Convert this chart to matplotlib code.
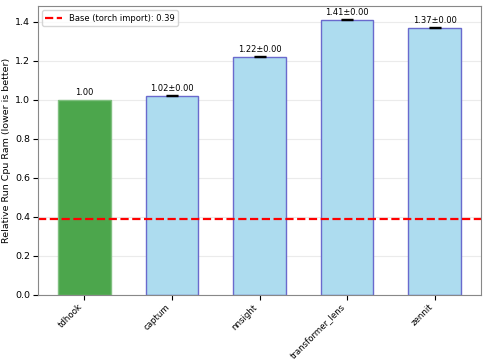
import matplotlib.pyplot as plt
import numpy as np

libs = ['tdhook', 'captum', 'nnsight', 'transformer_lens', 'zennit']
rel_ram = [1.00, 1.02, 1.22, 1.41, 1.37]
rel_err = [0.0, 0.002, 0.002, 0.002, 0.002]
base = 0.39

fig, ax = plt.subplots(figsize=(4.86, 3.63), dpi=100)

x = np.arange(len(libs))
colors = ['#4ca64c'] + ['#addcef'] * (len(libs) - 1)
edges = ['#7fbf7f'] + ['#6a6acd'] * (len(libs) - 1)
ax.bar(x, rel_ram, width=0.6, color=colors, edgecolor=edges, linewidth=1)
# error bars only on the comparison libs
ax.errorbar(x[1:], rel_ram[1:], yerr=rel_err[1:], fmt='none', ecolor='black',
            elinewidth=1, capsize=4)
ax.axhline(base, color='red', linestyle='--', linewidth=1.6, label=f'Base (torch import): {base:.2f}')

for i, (v, e) in enumerate(zip(rel_ram, rel_err)):
    txt = f'{v:.2f}' if i == 0 else f'{v:.2f}±{0:.2f}'
    ax.text(x[i], v + 0.015, txt, ha='center', va='bottom', fontsize=6)

ax.set_xticks(x)
ax.set_xticklabels(libs, rotation=45, ha='right', fontsize=6.2)
ax.tick_params(axis='y', labelsize=6.8, pad=2)
ax.tick_params(axis='x', pad=2)
ax.set_ylabel('Relative Run Cpu Ram (lower is better)', fontsize=6.8, labelpad=3)
ax.set_ylim(0, 1.48)
ax.grid(axis='y', alpha=0.25)
ax.set_axisbelow(True)
ax.legend(loc='upper left', fontsize=6)
for s in ax.spines.values():
    s.set_color('#888888')

fig.subplots_adjust(left=0.078, right=0.99, top=0.983, bottom=0.188)
fig.savefig('out.png')
